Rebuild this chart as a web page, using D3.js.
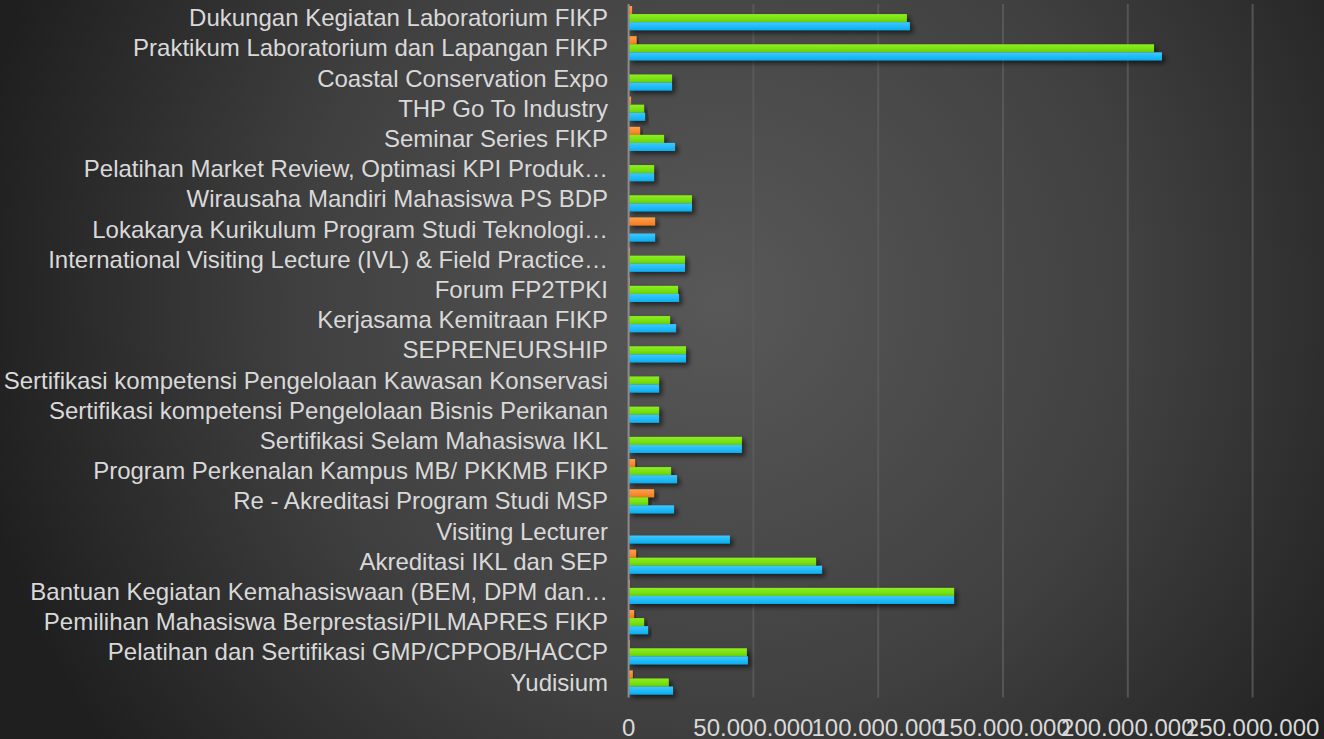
<!DOCTYPE html>
<html>
<head>
<meta charset="utf-8">
<script src="https://cdn.jsdelivr.net/npm/d3@7"></script>
<style>
  html, body { margin: 0; padding: 0; overflow: hidden; }
  body { width: 1324px; height: 739px; }
  text { font-family: "Liberation Sans", Arial, sans-serif; }
</style>
</head>
<body>
<script>
// categories, top to bottom
var categories = [
  "Dukungan Kegiatan Laboratorium FIKP",
  "Praktikum Laboratorium dan Lapangan FIKP",
  "Coastal Conservation Expo",
  "THP Go To Industry",
  "Seminar Series FIKP",
  "Pelatihan Market Review, Optimasi KPI Produk\u2026",
  "Wirausaha Mandiri Mahasiswa PS BDP",
  "Lokakarya Kurikulum Program Studi Teknologi\u2026",
  "International Visiting Lecture (IVL) & Field Practice\u2026",
  "Forum FP2TPKI",
  "Kerjasama Kemitraan FIKP",
  "SEPRENEURSHIP",
  "Sertifikasi kompetensi Pengelolaan Kawasan Konservasi",
  "Sertifikasi kompetensi Pengelolaan Bisnis Perikanan",
  "Sertifikasi Selam Mahasiswa IKL",
  "Program Perkenalan Kampus MB/ PKKMB FIKP",
  "Re - Akreditasi Program Studi MSP",
  "Visiting Lecturer",
  "Akreditasi IKL dan SEP",
  "Bantuan Kegiatan Kemahasiswaan (BEM, DPM dan\u2026",
  "Pemilihan Mahasiswa Berprestasi/PILMAPRES FIKP",
  "Pelatihan dan Sertifikasi GMP/CPPOB/HACCP",
  "Yudisium"
];

// series values (Rupiah), same order as categories
var seriesBlue = [
  112700000, 213700000, 17400000, 6600000, 18600000, 10200000, 25400000, 10600000,
  22600000, 20200000, 19000000, 23000000, 12200000, 12200000, 45400000, 19400000,
  18200000, 40600000, 77500000, 130400000, 7800000, 47800000, 17800000
];
var seriesGreen = [
  111500000, 210500000, 17400000, 6200000, 14200000, 10200000, 25400000, 0,
  22600000, 19800000, 16600000, 23000000, 12200000, 12200000, 45400000, 17000000,
  7800000, 0, 75100000, 130400000, 6200000, 47400000, 16100000
];
var seriesOrange = [
  1400000, 3200000, 0, 1000000, 4600000, 0, 0, 10600000,
  600000, 500000, 0, 0, 0, 0, 0, 2600000,
  10200000, 0, 3000000, 500000, 2200000, 500000, 1700000
];

var xTicks = [0, 50000000, 100000000, 150000000, 200000000, 250000000];
var xTickLabels = ["0", "50.000.000", "100.000.000", "150.000.000", "200.000.000", "250.000.000"];

function barchart(){
  var series = [
    {key: "orange", values: seriesOrange, top: "#ffa04a", bottom: "#f57c1f"},
    {key: "green", values: seriesGreen, top: "#8cf01e", bottom: "#6cd40a"},
    {key: "blue", values: seriesBlue, top: "#3ec8ff", bottom: "#0aaef0"}
  ];

  var width = 1324, height = 739;
  var plotLeft = 628.6, plotRight = 1252.6, plotTop = 3, plotBottom = 697.6;

  var svg = d3.select("body").append("svg")
    .attr("width", width)
    .attr("height", height);

  var defs = svg.append("defs");

  var bg = defs.append("radialGradient")
    .attr("id", "bg")
    .attr("gradientUnits", "userSpaceOnUse")
    .attr("cx", 720).attr("cy", 300).attr("r", 760);
  bg.append("stop").attr("offset", "0%").attr("stop-color", "#585858");
  bg.append("stop").attr("offset", "55%").attr("stop-color", "#404040");
  bg.append("stop").attr("offset", "100%").attr("stop-color", "#1f1f1f");

  series.forEach(function(s){
    var g = defs.append("linearGradient")
      .attr("id", "grad-" + s.key)
      .attr("x1", 0).attr("y1", 0).attr("x2", 0).attr("y2", 1);
    g.append("stop").attr("offset", "0%").attr("stop-color", s.top);
    g.append("stop").attr("offset", "100%").attr("stop-color", s.bottom);
  });

  var shadow = defs.append("filter")
    .attr("id", "shadow")
    .attr("x", "-10%").attr("y", "-50%")
    .attr("width", "130%").attr("height", "250%");
  shadow.append("feDropShadow")
    .attr("dx", 3).attr("dy", 3)
    .attr("stdDeviation", 2.5)
    .attr("flood-color", "#000")
    .attr("flood-opacity", 0.6);

  svg.append("rect")
    .attr("width", width)
    .attr("height", height)
    .attr("fill", "url(#bg)");

  var x = d3.scaleLinear()
    .domain([0, 250000000])
    .range([plotLeft, plotRight]);

  var y = d3.scaleBand()
    .domain(categories)
    .range([plotTop, plotBottom])
    .paddingInner(0.2)
    .paddingOuter(0.1);

  var ySub = d3.scaleBand()
    .domain(series.map(function(s){ return s.key; }))
    .range([0, y.bandwidth()]);

  // gridlines
  svg.append("g")
    .selectAll("line")
    .data(xTicks.slice(1))
  .enter().append("line")
    .attr("x1", function(d){ return x(d); })
    .attr("x2", function(d){ return x(d); })
    .attr("y1", plotTop + 1)
    .attr("y2", plotBottom)
    .attr("stroke", "#5c5c5c")
    .attr("stroke-opacity", 0.8)
    .attr("stroke-width", 2);

  // bars
  var groups = svg.append("g")
    .selectAll(".cat")
    .data(categories)
  .enter().append("g")
    .attr("class", "cat")
    .attr("transform", function(d){ return "translate(0," + y(d) + ")"; });

  groups.selectAll("rect")
    .data(function(d, i){
      return series.map(function(s){ return {key: s.key, value: s.values[i]}; })
        .filter(function(v){ return v.value > 0; });
    })
  .enter().append("rect")
    .attr("x", x(0))
    .attr("y", function(d){ return ySub(d.key); })
    .attr("width", function(d){ return Math.max(0, x(d.value) - x(0)); })
    .attr("height", ySub.bandwidth())
    .attr("fill", function(d){ return "url(#grad-" + d.key + ")"; })
    .attr("filter", "url(#shadow)");

  // y axis line
  svg.append("line")
    .attr("x1", plotLeft).attr("x2", plotLeft)
    .attr("y1", plotTop + 1).attr("y2", plotBottom)
    .attr("stroke", "#8c8c8c")
    .attr("stroke-width", 2);

  // category labels
  svg.append("g")
    .selectAll("text")
    .data(categories)
  .enter().append("text")
    .attr("x", 608)
    .attr("y", function(d){ return y(d) + y.bandwidth() / 2 + 8; })
    .attr("text-anchor", "end")
    .attr("fill", "#d9d9d9")
    .style("font-size", "24px")
    .text(String);

  // x tick labels
  svg.append("g")
    .selectAll("text")
    .data(xTicks)
  .enter().append("text")
    .attr("x", function(d){ return x(d); })
    .attr("y", 736)
    .attr("text-anchor", "middle")
    .attr("fill", "#d9d9d9")
    .style("font-size", "24px")
    .text(function(d, i){ return xTickLabels[i]; });
}

barchart();
</script>
</body>
</html>
